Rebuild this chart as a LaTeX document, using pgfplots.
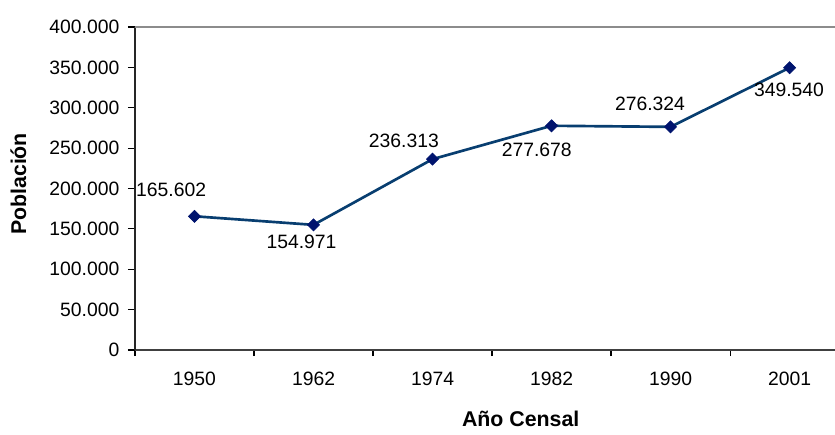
\documentclass[border=0pt]{standalone}
\usepackage{fontspec}
\setmainfont{Liberation Sans}
\usepackage{pgfplots}
\pgfplotsset{compat=1.18}
\definecolor{linec}{RGB}{8,62,112}
\definecolor{markc}{RGB}{0,20,110}
\begin{document}
\begin{tikzpicture}
\begin{axis}[
  scale only axis,
  width=525pt, height=242.25pt,
  xmin=-0.5, xmax=5.382,
  ymin=0, ymax=400000,
  axis x line=bottom, axis y line=left,
  x axis line style={-, draw=black!75, line width=1.6pt},
  y axis line style={-, draw=black!85, line width=1.1pt},
  xtick={0,1,2,3,4,5},
  xticklabels={1950,1962,1974,1982,1990,2001},
  major x tick style={draw=none},
  minor xtick={-0.5,0.5,1.5,2.5,3.5,4.5},
  minor x tick style={draw=black, line width=0.8pt},
  minor tick length=4.5pt,
  ytick={0,50000,...,400000},
  major y tick style={draw=black, line width=0.8pt},
  major tick length=5.25pt,
  tick align=outside,
  scaled y ticks=false,
  /pgf/number format/.cd, fixed, precision=0, 1000 sep={.}, assume math mode=true,
  /pgfplots/.cd,
  tick label style={font=\fontsize{14.5}{17}\selectfont},
  xticklabel style={yshift=-7.5pt},
  yticklabel style={xshift=-3pt},
  extra y ticks={400000},
  extra y tick labels={},
  extra y tick style={grid=major, major grid style={draw=black!45, line width=1.5pt}, major tick length=0pt},
  xlabel={Año Censal},
  ylabel={Población},
  label style={font=\fontsize{16}{19}\bfseries},
  xlabel style={at={(rel axis cs:0.551,0)}, anchor=center, yshift=-51.75pt},
  ylabel style={at={(rel axis cs:0,0.514)}, anchor=center, yshift=87.5pt},
  clip=false,
]
\addplot[color=linec, line width=2pt, mark=square*, mark size=3.2pt,
  mark options={rotate=45, fill=markc, draw=markc, line width=0.5pt}]
  coordinates {(0,165602) (1,154971) (2,236313) (3,277678) (4,276324) (5,349540)};
\begin{scope}[every node/.style={font=\fontsize{14.5}{17}\selectfont, inner sep=0pt}]
\node at (axis cs:0,165602) [xshift=-17.5pt, yshift=19.7pt] {165.602};
\node at (axis cs:1,154971) [xshift=-9pt, yshift=-12.6pt] {154.971};
\node at (axis cs:2,236313) [xshift=-21.5pt, yshift=13.8pt] {236.313};
\node at (axis cs:3,277678) [xshift=-11.1pt, yshift=-17.8pt] {277.678};
\node at (axis cs:4,276324) [xshift=-15.4pt, yshift=16.9pt] {276.324};
\node at (axis cs:5,349540) [xshift=-0.4pt, yshift=-16.5pt] {349.540};
\end{scope}
\end{axis}
\pgfresetboundingbox
\useasboundingbox (-101.25pt,-63.75pt) rectangle (525pt,262.5pt);
\end{tikzpicture}
\end{document}
